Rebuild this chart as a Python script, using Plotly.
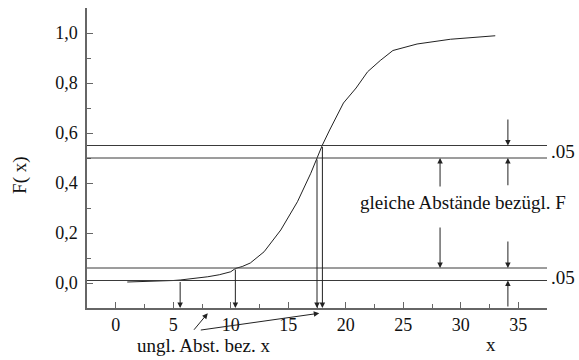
import plotly.graph_objects as go

# CDF curve
x_curve = [1.0, 3.0, 5.0, 5.6, 7.0, 8.0, 9.0, 10.0, 10.4, 11.0, 11.7, 12.9, 14.35,
           15.8, 16.96, 17.5, 17.97, 18.6, 19.8, 20.9, 21.9, 23.0, 24.1, 26.2, 29.1, 33.0]
F_curve = [0.004, 0.006, 0.010, 0.012, 0.018, 0.025, 0.033, 0.045, 0.058, 0.066, 0.080,
           0.125, 0.212, 0.325, 0.439, 0.499, 0.552, 0.612, 0.720, 0.780, 0.845, 0.890,
           0.930, 0.956, 0.975, 0.989]

# horizontal probability levels and their x-quantiles
F_levels = [0.01, 0.06, 0.50, 0.55]
x_quant = [5.6, 10.4, 17.5, 17.97]

y_tickvals = [0.0, 0.2, 0.4, 0.6, 0.8, 1.0]
y_ticktext = ["0,0", "0,2", "0,4", "0,6", "0,8", "1,0"]
x_tickvals = [0, 5, 10, 15, 20, 25, 30, 35]
x_ticktext = ["0", "5", "10", "15", "20", "25", "30", "35"]

x_min, x_max = -2.5, 37.5
y_min, y_max = -0.1, 1.1

FONT = "Liberation Serif"
INK = "#222222"
LINE = "#3a3a3a"
AX = "#666666"

fig = go.Figure()
fig.add_trace(go.Scatter(x=x_curve, y=F_curve, mode="lines",
                         line=dict(color=INK, width=1), showlegend=False,
                         hoverinfo="skip"))

shapes = []
for lv in F_levels:
    shapes.append(dict(type="line", xref="x", yref="y", x0=x_min, x1=x_max,
                       y0=lv, y1=lv, line=dict(color=LINE, width=1)))

annotations = []

def arrow(xh, yh, xt, yt):
    annotations.append(dict(x=xh, y=yh, ax=xt, ay=yt, xref="x", yref="y",
                            axref="x", ayref="y", text="", showarrow=True,
                            arrowhead=2, arrowsize=1.1, arrowwidth=1,
                            arrowcolor=INK, standoff=0, startstandoff=0))

# drop lines from the curve down to the x axis
for xq, lv in zip(x_quant, F_levels):
    arrow(xq, y_min, xq, lv)

# right-side .05 markers
x_right = 34.1
arrow(x_right, F_levels[3], x_right, 0.66)
arrow(x_right, F_levels[2], x_right, 0.385)
arrow(x_right, F_levels[1], x_right, 0.172)
arrow(x_right, F_levels[0], x_right, y_min)

# middle "gleiche Abstände" arrows
x_mid = 28.2
arrow(x_mid, F_levels[2], x_mid, 0.38)
arrow(x_mid, F_levels[1], x_mid, 0.228)

# arrows from the bottom label to the x axis (pixel tails)
for xh, axp, ayp in [(8.0, -15, 18), (17.7, -120, 17)]:
    annotations.append(dict(x=xh, y=-0.0175, xref="x", yref="paper",
                            ax=axp, ay=ayp, text="", showarrow=True,
                            arrowhead=2, arrowsize=1.1, arrowwidth=1,
                            arrowcolor=INK, standoff=0))

tfont = dict(family=FONT, size=19, color="#111111")
annotations += [
    dict(x=x_max, y=(F_levels[2] + F_levels[3]) / 2, xref="x", yref="y",
         text=".05", showarrow=False, xanchor="left", xshift=2, font=tfont),
    dict(x=x_max, y=0.022, xref="x", yref="y",
         text=".05", showarrow=False, xanchor="left", xshift=2, font=tfont),
    dict(x=21.1, y=0.324, xref="x", yref="y", text="gleiche Abstände bezügl. F",
         showarrow=False, xanchor="left", font=tfont),
    dict(x=1.7, y=-0.125, xref="x", yref="paper", text="ungl. Abst. bez. x",
         showarrow=False, xanchor="left", yanchor="middle", font=tfont),
    dict(x=32.6, y=-0.123, xref="x", yref="paper", text="x",
         showarrow=False, xanchor="center", yanchor="middle", font=tfont),
    dict(x=-0.146, y=0.443, xref="paper", yref="paper", text="F( x)",
         showarrow=False, textangle=-90, xanchor="center", yanchor="middle",
         font=tfont),
]

fig.update_layout(
    width=579, height=360,
    margin=dict(l=87, r=32, t=8, b=52, autoexpand=False),
    paper_bgcolor="white", plot_bgcolor="white",
    showlegend=False,
    shapes=shapes, annotations=annotations,
    xaxis=dict(range=[x_min, x_max], showgrid=False, zeroline=False,
               showline=True, linecolor=AX, linewidth=1.5,
               ticks="inside", ticklen=6, tickwidth=1, tickcolor=AX,
               tickvals=x_tickvals, ticktext=x_ticktext, automargin=False,
               tickfont=dict(family=FONT, size=18, color="#111111"),
               minor=dict(ticks="inside", ticklen=4, tickwidth=1,
                          tickcolor=AX, dtick=2.5, tick0=0)),
    yaxis=dict(range=[y_min, y_max], showgrid=False, zeroline=False,
               showline=True, linecolor=AX, linewidth=1.5,
               ticks="inside", ticklen=6, tickwidth=1, tickcolor=AX,
               tickvals=y_tickvals, ticktext=y_ticktext, automargin=False,
               ticklabelstandoff=4,
               tickfont=dict(family=FONT, size=18, color="#111111"),
               minor=dict(ticks="inside", ticklen=4, tickwidth=1,
                          tickcolor=AX, dtick=0.1, tick0=0)),
)

fig.write_html("out.html", config={"displayModeBar": False},
               post_script="document.body.style.margin='0px';")
